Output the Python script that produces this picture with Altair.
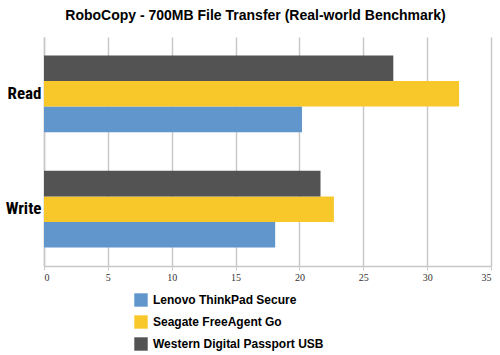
import altair as alt
import pandas as pd

operations = ["Read", "Write"]
drives = ["Lenovo ThinkPad Secure", "Seagate FreeAgent Go", "Western Digital Passport USB"]
lenovo = [20.2, 18.1]
seagate = [32.5, 22.7]
wd = [27.35, 21.65]
colors = ["#6196cd", "#f8c82b", "#535353"]
x_ticks = [0, 5, 10, 15, 20, 25, 30, 35]

rows = []
for i, op in enumerate(operations):
    for d, vals in zip(drives, [lenovo, seagate, wd]):
        rows.append({"op": op, "drive": d, "value": vals[i]})
df = pd.DataFrame(rows)

chart = alt.Chart(df).mark_bar().encode(
    x=alt.X("value:Q",
            scale=alt.Scale(domain=[0, 35], nice=False),
            axis=alt.Axis(title=None, values=x_ticks, grid=True, gridColor="#c8c8c8",
                          gridWidth=1.5, domainColor="#c8c8c8", domainWidth=1.5,
                          tickColor="#c8c8c8", tickSize=4,
                          labelFont="Liberation Serif",
                          labelFontSize=10, labelColor="#333333", labelPadding=2)),
    y=alt.Y("op:N", sort=operations,
            scale=alt.Scale(paddingInner=0.335, paddingOuter=0.16),
            axis=alt.Axis(title=None, ticks=False, domainColor="#c8c8c8", domainWidth=1.5,
                          labelFont="Roboto Condensed",
                          labelFontWeight="bold",
                          labelFontSize=17, labelColor="#000000", labelPadding=3)),
    yOffset=alt.YOffset("drive:N", sort=list(reversed(drives)),
                        scale=alt.Scale(paddingInner=0, paddingOuter=0)),
    color=alt.Color("drive:N", scale=alt.Scale(domain=drives, range=colors),
                    legend=alt.Legend(title=None, orient="none", legendX=90, legendY=256,
                                      direction="vertical", symbolType="square",
                                      symbolSize=180, symbolStrokeWidth=0, padding=0,
                                      labelFont="Liberation Sans", labelFontWeight="bold",
                                      labelFontSize=12, labelColor="#000000",
                                      labelLimit=400, labelOffset=5, rowPadding=8)),
).properties(
    width=447, height=229,
    title=alt.TitleParams("RoboCopy - 700MB File Transfer (Real-world Benchmark)",
                          font="Liberation Sans", fontSize=14, fontWeight="bold",
                          color="#000000", anchor="middle", dx=-12, offset=14),
    padding={"left": 44, "top": 37, "right": 9, "bottom": 89},
    autosize=alt.AutoSizeParams(type="none"),
).configure_view(stroke=None)

chart.save("out.html", embed_options={"renderer": "svg", "actions": False})
